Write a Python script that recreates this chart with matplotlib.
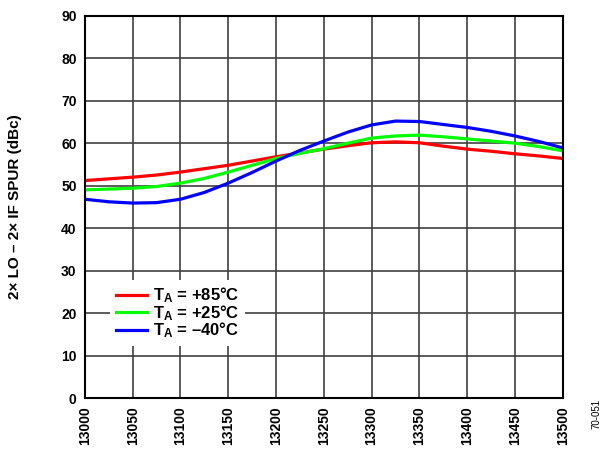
import matplotlib
matplotlib.use("Agg")
import matplotlib.pyplot as plt

freq = [13000, 13025, 13050, 13075, 13100, 13125, 13150, 13175, 13200, 13225, 13250,
        13275, 13300, 13325, 13350, 13375, 13400, 13425, 13450, 13475, 13500]
spur_85 = [51.2, 51.6, 52.0, 52.5, 53.2, 54.0, 54.8, 55.8, 56.8, 57.7, 58.6,
           59.4, 60.1, 60.3, 60.1, 59.3, 58.6, 58.1, 57.5, 57.0, 56.4]
spur_25 = [49.0, 49.2, 49.4, 49.8, 50.6, 51.7, 53.2, 54.8, 56.4, 57.6, 58.7,
           60.0, 61.2, 61.7, 61.9, 61.5, 61.0, 60.5, 60.0, 59.2, 58.2]
spur_m40 = [46.8, 46.2, 45.9, 46.0, 46.8, 48.4, 50.6, 53.1, 55.8, 58.3, 60.5,
            62.6, 64.3, 65.2, 65.1, 64.4, 63.7, 62.8, 61.7, 60.4, 58.9]
labels = [r"$\mathbf{T_A}$ = +85°C", r"$\mathbf{T_A}$ = +25°C", r"$\mathbf{T_A}$ = –40°C"]
xticks = list(range(13000, 13501, 50))
yticks = list(range(0, 91, 10))

plt.rcParams['font.family'] = ['Liberation Sans', 'DejaVu Sans']
plt.rcParams['mathtext.fontset'] = 'custom'
plt.rcParams['mathtext.bf'] = 'Liberation Sans:bold'
plt.rcParams['mathtext.rm'] = 'Liberation Sans'

fig = plt.figure(figsize=(6.11, 4.54), dpi=100)
ax = fig.add_axes([0.139, 0.1233, 0.782, 0.842])

ax.plot(freq, spur_85, color='#ff0000', lw=2.3, label=labels[0])
ax.plot(freq, spur_25, color='#00ff00', lw=2.3, label=labels[1])
ax.plot(freq, spur_m40, color='#0000ff', lw=2.3, label=labels[2])

ax.set_xlim(13000, 13500)
ax.set_ylim(0, 90)
ax.set_xticks(xticks)
ax.set_yticks(yticks)
ax.set_xticklabels([str(v) for v in xticks], rotation=90, fontsize=10, fontweight='bold')
ax.set_yticklabels([str(v) for v in yticks], fontsize=10, fontweight='bold')
ax.tick_params(length=0, pad=6)
ax.grid(True, color='#404040', lw=1.2)
for s in ax.spines.values():
    s.set_linewidth(1.5)
    s.set_color('black')
ax.set_ylabel("2× LO – 2× IF SPUR (dBc)", fontsize=11, fontweight='bold')
ax.yaxis.set_label_coords(-0.132, 0.5)

leg = ax.legend(loc='upper left', bbox_to_anchor=(0.052, 0.31), frameon=True,
                fancybox=False, edgecolor='none', framealpha=1,
                prop={'weight': 'bold', 'size': 12}, handlelength=1.9,
                labelspacing=-0.12, borderpad=0.35, handletextpad=0.35,
                borderaxespad=0)

fig.text(0.977, 0.055, "70-051", rotation=90, fontsize=7, ha='center', va='bottom')

fig.savefig("out.png", dpi=100)
